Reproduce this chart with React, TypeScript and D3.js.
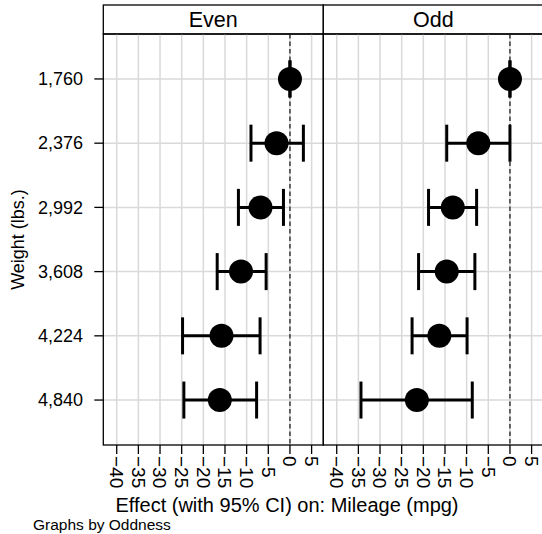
import { useEffect, useRef } from "react"
import * as d3 from "d3"

// data
const weights = [1760, 2376, 2992, 3608, 4224, 4840]
const panels = ["Even", "Odd"]
const evenEst = [0, -3.1, -6.8, -11.3, -15.8, -16.2]
const evenLo = [0, -9.0, -11.9, -16.8, -24.8, -24.5]
const evenHi = [0, 3.1, -1.5, -5.5, -6.9, -7.7]
const oddEst = [0, -7.3, -13.2, -14.6, -16.3, -21.5]
const oddLo = [0, -14.6, -18.8, -21.1, -22.6, -34.4]
const oddHi = [0, 0, -7.7, -8.1, -9.9, -8.7]
const xTicks = [-40, -35, -30, -25, -20, -15, -10, -5, 0, 5]

const W = 542
const H = 534
const FONT = "'Liberation Sans', Arial, sans-serif"

export default function App() {
    const svgRef = useRef(null)

    useEffect(() => {
        const svg = d3.select(svgRef.current)
        svg.selectAll("*").remove()

        const panelW = 220
        const left = 103.3
        const top = 34
        const bottom = 445
        const headTop = 5

        const y = d3.scalePoint()
            .domain(weights.map(String))
            .range([top, bottom])
            .padding(0.7)

        const series = [
            { est: evenEst, lo: evenLo, hi: evenHi },
            { est: oddEst, lo: oddLo, hi: oddHi },
        ]

        panels.forEach((name, i) => {
            const x0 = left + i * panelW
            const x = d3.scaleLinear().domain([-43.1, 7.7]).range([x0, x0 + panelW])
            const g = svg.append("g")
            const s = series[i]

            // header strip
            g.append("rect")
                .attr("x", x0).attr("y", headTop)
                .attr("width", panelW).attr("height", top - headTop)
                .attr("fill", "white").attr("stroke", "black").attr("stroke-width", 1.3)
            g.append("text")
                .attr("x", x0 + panelW / 2).attr("y", 26.5)
                .attr("text-anchor", "middle")
                .style("font-size", "21.5px")
                .text(name)

            // grid
            g.selectAll(".vg").data(xTicks).join("line")
                .attr("x1", d => x(d)).attr("x2", d => x(d))
                .attr("y1", top).attr("y2", bottom)
                .attr("stroke", "#d9d9d9").attr("stroke-width", 1.5)
            g.selectAll(".hg").data(weights).join("line")
                .attr("x1", x0).attr("x2", x0 + panelW)
                .attr("y1", d => y(String(d))).attr("y2", d => y(String(d)))
                .attr("stroke", "#d9d9d9").attr("stroke-width", 1.5)

            // zero reference
            g.append("line")
                .attr("x1", x(0)).attr("x2", x(0))
                .attr("y1", top).attr("y2", bottom)
                .attr("stroke", "#222").attr("stroke-width", 1.3)
                .attr("stroke-dasharray", "4.5 3")

            // plot frame
            g.append("rect")
                .attr("x", x0).attr("y", top)
                .attr("width", panelW).attr("height", bottom - top)
                .attr("fill", "none").attr("stroke", "black").attr("stroke-width", 1.3)

            // bottom axis
            const ax = g.append("g")
            ax.selectAll("line").data(xTicks).join("line")
                .attr("x1", d => x(d)).attr("x2", d => x(d))
                .attr("y1", bottom).attr("y2", bottom + 9)
                .attr("stroke", "black").attr("stroke-width", 1.3)
            ax.selectAll("text").data(xTicks).join("text")
                .attr("transform", d => `translate(${x(d)},${bottom + 11}) rotate(90)`)
                .attr("dy", "0.35em")
                .style("font-size", "19px")
                .text(d => d < 0 ? "\u2212" + Math.abs(d) : String(d))

            // CI bars
            const cap = 18.5
            weights.forEach((w, j) => {
                const cy = y(String(w))
                g.append("line")
                    .attr("x1", x(s.lo[j])).attr("x2", x(s.hi[j]))
                    .attr("y1", cy).attr("y2", cy)
                    .attr("stroke", "black").attr("stroke-width", 3)
                ;[s.lo[j], s.hi[j]].forEach(v => {
                    g.append("line")
                        .attr("x1", x(v)).attr("x2", x(v))
                        .attr("y1", cy - cap).attr("y2", cy + cap)
                        .attr("stroke", "black").attr("stroke-width", 3)
                })
                g.append("circle")
                    .attr("cx", x(s.est[j])).attr("cy", cy)
                    .attr("r", 12).attr("fill", "black")
            })
        })

        // y axis
        const ya = svg.append("g")
        ya.selectAll("line").data(weights).join("line")
            .attr("x1", left - 9).attr("x2", left)
            .attr("y1", d => y(String(d))).attr("y2", d => y(String(d)))
            .attr("stroke", "black").attr("stroke-width", 1.3)
        ya.selectAll("text").data(weights).join("text")
            .attr("x", 83).attr("y", d => y(String(d)))
            .attr("dy", "0.35em").attr("text-anchor", "end")
            .style("font-size", "18px")
            .text(d => d3.format(",")(d))

        svg.append("text")
            .attr("transform", `translate(24,${(top + bottom) / 2}) rotate(-90)`)
            .attr("text-anchor", "middle")
            .style("font-size", "18px")
            .text("Weight (lbs.)")

        svg.append("text")
            .attr("x", 287).attr("y", 511.5)
            .attr("text-anchor", "middle")
            .style("font-size", "20px")
            .text("Effect (with 95% CI) on: Mileage (mpg)")

        svg.append("text")
            .attr("x", 33).attr("y", 530)
            .style("font-size", "15.5px")
            .text("Graphs by Oddness")
    }, [])

    return (
        <svg
            ref={svgRef}
            width={W}
            height={H}
            style={{ position: "absolute", left: 0, top: 0, background: "white", fontFamily: FONT }}
        />
    )
}
